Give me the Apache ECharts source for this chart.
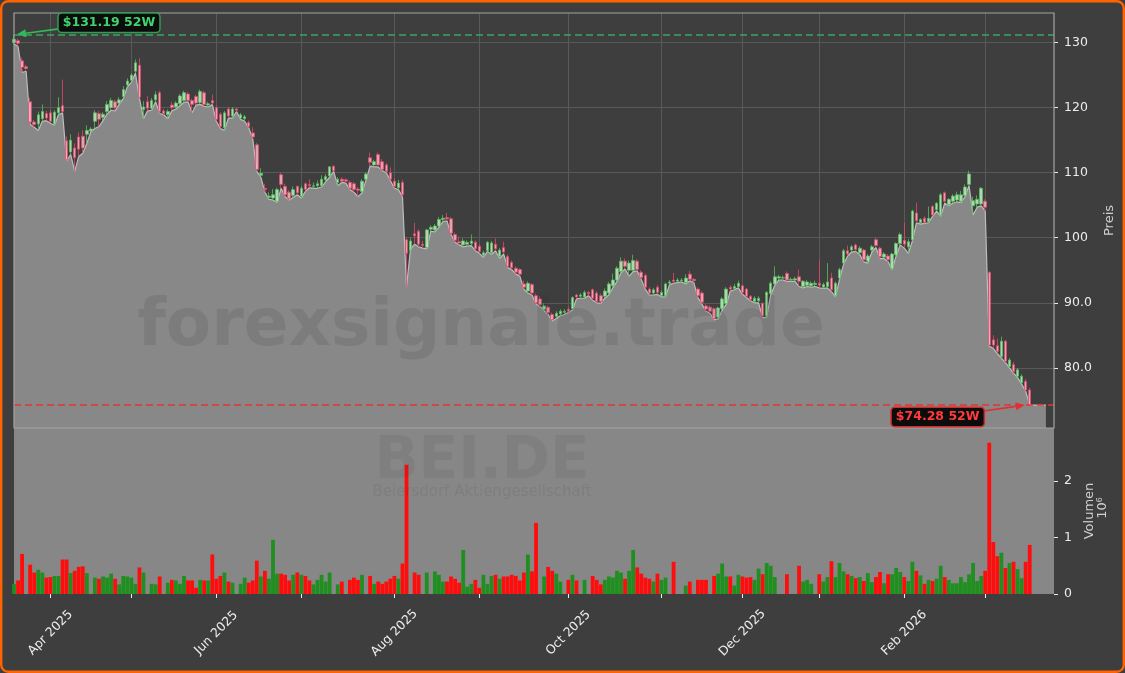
<!DOCTYPE html>
<html><head><meta charset="utf-8">
<script src="https://cdn.jsdelivr.net/npm/echarts@6/dist/echarts.min.js"></script>
<style>html,body{margin:0;padding:0;background:#ffffff}#c{width:1125px;height:673px}</style>
</head><body><div id="c"></div>
<script>
// ---- categories ----
const startDate = '2025-03-19';
const holidays = ['2025-04-18','2025-04-21','2025-05-01','2025-12-24','2025-12-25','2025-12-26','2025-12-31','2026-01-01'];
const padSlots = 6;      // empty trading days kept at the right edge of the x range
const areaPad = 4;       // how far the low-line fill runs past the last candle
// ---- tick labels ----
const priceTicks = [80, 90, 100, 110, 120, 130];
const volTicks = [0, 1, 2];
const monthNames = ['Jan','Feb','Mar','Apr','May','Jun','Jul','Aug','Sep','Oct','Nov','Dec'];
// ---- series values (EUR) ----
const opens = [130.0,130.3,127.2,126.3,120.9,117.8,117.5,118.3,119.1,119.2,
117.5,119.2,120.3,114.9,113.2,113.8,115.5,115.6,115.9,116.4,
117.9,119.1,118.5,119.4,120.0,120.9,120.7,121.7,123.5,124.2,
125.6,126.5,119.7,120.9,119.9,121.2,122.3,119.5,118.9,120.4,
120.1,120.6,121.1,122.1,121.1,121.7,120.8,122.3,120.4,121.1,
120.0,119.0,116.9,119.8,118.7,119.8,118.4,118.3,117.7,116.1,
114.3,109.6,107.6,106.2,106.1,105.6,109.7,107.9,107.0,106.5,
107.9,106.4,108.3,108.2,107.9,108.0,108.0,108.9,109.5,111.0,
108.5,109.0,108.9,108.5,108.3,107.5,107.1,109.0,112.3,111.2,
112.8,111.7,111.2,110.0,108.7,107.7,108.5,99.7,98.0,100.6,
101.0,99.0,98.5,101.3,101.2,101.8,102.8,103.1,102.9,100.5,
99.4,98.9,99.0,99.1,99.3,98.7,97.3,98.0,97.7,99.0,
97.1,98.5,97.1,96.2,95.3,95.1,92.9,91.8,92.8,91.1,
90.6,89.0,89.3,88.2,87.9,88.3,88.5,89.0,89.1,91.2,
91.0,90.9,91.6,92.0,91.5,91.1,91.0,91.5,92.6,93.5,
94.8,96.4,95.0,95.0,96.4,94.7,94.2,92.1,91.5,92.4,
91.1,91.1,93.0,93.5,93.3,93.4,93.1,94.4,93.6,92.1,
91.5,89.5,89.3,89.1,87.8,89.1,89.9,92.4,92.2,92.5,
92.6,92.1,91.0,90.2,90.3,89.9,88.0,91.4,92.9,93.8,
93.8,94.5,93.5,93.5,94.0,92.5,92.7,92.6,92.8,93.0,
92.4,92.5,93.8,91.1,93.8,96.1,98.0,98.1,98.9,97.7,
98.1,96.4,98.1,99.7,98.4,97.0,97.2,95.3,97.4,99.1,
99.6,98.6,99.7,103.8,102.3,103.0,102.5,104.8,104.3,103.5,
106.9,105.1,105.6,105.8,105.6,106.5,108.2,104.9,105.2,105.2,
105.6,94.7,84.3,83.4,81.7,84.1,80.2,80.5,78.7,77.7,
77.9,76.6];
const closes = [130.5,129.9,126.2,126.0,117.8,117.4,118.9,119.4,118.4,117.9,
119.3,120.0,119.4,112.0,115.0,112.3,113.6,113.8,116.5,116.7,
119.2,118.2,119.0,120.5,121.1,120.0,121.2,122.8,124.1,125.0,
126.9,121.6,120.1,119.9,121.1,122.0,119.4,119.1,119.4,120.0,
120.7,121.8,122.3,121.1,120.5,120.7,122.5,120.5,120.6,120.7,
118.2,117.1,119.2,118.7,119.8,119.6,118.9,118.6,117.1,115.5,
110.5,109.9,107.4,106.4,106.6,107.4,108.2,106.6,106.0,107.4,
106.9,107.6,107.4,108.0,108.0,108.3,109.0,109.4,110.9,110.3,
109.0,108.7,108.7,107.6,107.4,107.3,108.7,109.8,111.6,111.7,
111.2,110.5,110.2,109.0,107.9,108.4,106.6,97.6,99.5,100.3,
99.0,98.8,101.2,101.6,101.8,102.8,103.0,102.9,100.7,99.6,
99.2,99.5,99.3,99.5,98.3,97.9,97.7,99.3,99.2,98.3,
98.1,97.8,95.6,95.4,94.7,94.4,92.4,93.0,91.5,90.0,
89.7,89.5,88.5,87.4,88.4,88.7,88.7,88.7,90.8,90.9,
91.2,91.6,91.4,90.7,90.2,90.2,91.8,92.9,93.5,95.3,
96.4,95.6,96.1,96.5,95.1,93.9,92.4,91.5,92.0,91.6,
91.6,92.9,93.2,93.3,93.5,93.5,93.8,93.6,93.4,91.1,
90.1,89.0,88.7,87.6,89.2,90.6,92.1,92.1,92.5,93.0,
91.6,91.0,90.5,90.7,90.7,88.0,91.6,93.0,94.0,94.0,
93.9,93.5,93.6,93.7,93.3,93.3,93.2,93.0,93.0,92.7,
92.8,93.2,92.0,93.0,95.1,98.0,97.5,98.6,98.2,98.4,
96.6,97.2,98.6,98.8,97.1,97.5,96.6,97.5,99.1,100.5,
99.0,99.4,104.1,102.6,102.8,102.4,103.0,103.5,105.3,106.6,
105.6,105.9,106.4,106.6,106.6,107.8,109.8,105.7,105.9,107.6,
104.7,83.5,83.5,82.5,84.1,81.0,81.2,79.4,79.7,78.7,
76.6,74.3];
const lows = [129.8,129.4,125.4,125.6,117.4,117.0,116.5,117.9,118.0,117.6,
117.3,118.9,119.2,111.8,112.8,110.2,112.5,113.0,114.5,116.3,
116.8,117.1,118.0,119.0,119.6,119.5,120.5,121.4,123.2,123.9,
125.3,121.4,118.3,119.5,119.6,120.9,119.1,118.9,118.3,119.5,
119.8,120.3,120.8,120.9,119.2,120.4,120.5,120.2,120.1,120.5,
117.9,116.8,116.5,118.4,118.4,119.4,118.2,117.9,116.9,115.2,
110.2,109.3,107.0,105.9,105.8,105.4,107.6,106.3,105.8,106.2,
106.6,106.1,107.1,107.7,107.6,107.6,107.8,108.6,109.3,110.2,
108.0,108.5,108.4,107.4,107.0,106.3,106.9,108.9,111.0,110.9,
110.9,110.3,110.0,108.8,107.6,107.4,106.3,92.5,98.3,99.0,
98.6,98.4,98.3,101.0,100.9,101.6,102.5,102.6,100.5,99.3,
98.9,98.6,98.7,98.8,98.0,97.6,97.0,97.9,97.4,98.0,
96.8,97.5,95.4,95.1,94.4,94.1,92.1,91.5,91.2,89.8,
89.4,88.8,88.2,87.2,87.6,88.0,88.2,88.5,88.9,90.6,
90.7,90.7,91.1,90.4,90.0,89.9,90.7,91.2,92.3,93.3,
94.6,95.2,94.1,94.8,94.9,93.6,92.1,91.2,91.2,91.3,
90.9,90.9,92.8,93.0,93.1,93.2,92.9,93.4,93.1,90.8,
89.8,88.7,88.4,87.4,87.5,88.9,89.7,91.8,92.0,92.3,
91.3,90.8,90.3,90.0,90.0,87.7,87.8,91.2,92.7,93.5,
93.5,93.3,93.3,93.3,92.5,92.3,92.5,92.4,92.5,92.3,
92.2,92.3,91.7,90.9,93.6,95.9,97.2,97.8,97.9,97.4,
96.3,96.1,97.8,98.5,96.8,96.8,96.3,95.1,97.2,98.9,
98.4,97.6,99.5,102.3,102.1,102.2,102.3,103.3,104.1,103.3,
105.3,104.9,105.3,105.5,105.4,106.3,108.0,103.5,104.7,104.9,
104.1,83.3,83.0,82.2,81.5,80.8,80.0,79.2,78.5,77.5,
76.4,74.28];
const highs = [131.19,130.6,127.7,126.6,121.5,118.1,119.4,120.5,119.5,119.6,
119.6,121.6,124.3,115.6,115.9,114.5,116.2,116.5,117.3,117.0,
119.6,119.5,119.3,121.0,121.5,121.2,121.6,123.3,124.5,125.3,
127.4,127.6,121.0,121.8,121.5,122.5,122.6,119.8,119.7,120.9,
121.0,122.1,122.6,122.4,121.4,122.0,122.8,122.6,120.9,122.0,
120.3,119.3,119.5,120.1,120.1,120.0,119.2,118.9,118.0,117.0,
114.6,110.7,108.3,107.0,107.5,107.7,110.0,108.3,107.3,107.9,
108.0,108.0,108.5,109.0,108.5,108.8,109.6,109.8,111.0,111.1,
109.3,109.3,109.1,108.8,108.6,107.8,109.0,110.0,113.1,112.0,
113.1,112.1,111.5,110.8,109.1,108.9,108.9,100.0,100.0,102.3,
101.3,99.5,101.4,101.9,102.1,103.2,103.5,103.8,103.2,100.8,
100.2,99.9,99.6,100.5,99.6,99.0,98.0,99.5,99.5,99.9,
98.4,99.4,97.4,96.5,95.6,95.3,93.4,93.3,93.0,91.4,
91.0,89.9,89.6,88.5,88.7,89.0,89.0,89.3,91.0,91.4,
91.5,91.9,91.8,92.2,91.8,91.4,92.2,93.2,94.5,95.6,
97.0,96.8,96.5,97.4,96.7,95.0,94.5,92.4,92.3,92.7,
91.9,93.1,93.5,94.6,93.8,93.8,94.4,94.9,93.8,92.4,
91.8,89.8,89.6,89.3,89.4,90.9,92.4,92.7,92.9,93.4,
92.8,92.3,91.2,91.0,91.0,90.1,91.8,93.3,95.6,94.3,
94.2,94.8,93.9,94.0,95.1,93.5,93.5,93.3,93.4,96.5,
93.1,96.1,94.6,93.3,95.4,98.3,98.8,98.9,99.1,98.7,
98.3,97.5,98.9,100.0,98.6,97.8,97.5,97.7,99.3,100.8,
102.3,99.8,104.3,105.4,103.0,103.3,104.8,105.0,105.5,106.9,
107.1,106.1,106.7,107.1,107.2,108.2,110.3,106.3,106.5,107.8,
105.9,94.8,85.0,84.5,84.8,84.3,81.5,80.9,80.0,79.0,
78.3,76.9];
// ---- volume (millions of shares) ----
const volumes = [0.18,0.24,0.71,0,0.52,0.38,0.43,0.38,0.29,0.30,
0.32,0.32,0.61,0.61,0.37,0.41,0.48,0.49,0.37,0,
0.29,0.27,0.31,0.29,0.36,0.27,0.17,0.32,0.31,0.29,
0.18,0.47,0.38,0,0.18,0.17,0.31,0,0.20,0.25,
0.24,0.18,0.32,0.24,0.24,0.11,0.25,0.24,0.24,0.70,
0.27,0.32,0.38,0.22,0.20,0,0.18,0.29,0.20,0.24,
0.59,0.31,0.41,0.27,0.96,0.36,0.36,0.34,0.24,0.34,
0.38,0.34,0.32,0.24,0.17,0.25,0.34,0.22,0.38,0,
0.17,0.22,0,0.25,0.29,0.25,0.34,0,0.32,0.18,
0.22,0.18,0.22,0.27,0.32,0.27,0.54,2.29,0,0.38,
0.34,0,0.38,0,0.40,0.34,0.22,0.22,0.31,0.27,
0.20,0.78,0.13,0.18,0.25,0.11,0.34,0.18,0.32,0.34,
0.27,0.31,0.31,0.34,0.32,0.24,0.38,0.70,0.40,1.26,
0,0.31,0.48,0.41,0.36,0.22,0,0.25,0.34,0.24,
0,0.25,0,0.32,0.25,0.17,0.25,0.31,0.29,0.41,
0.38,0.27,0.41,0.78,0.47,0.36,0.29,0.27,0.22,0.36,
0.25,0.29,0,0.57,0,0,0.15,0.22,0,0.25,
0.25,0.25,0,0.32,0.36,0.54,0.31,0.31,0.15,0.34,
0.31,0.29,0.30,0.25,0.45,0.35,0.55,0.50,0.30,0,
0,0.35,0,0,0.50,0.22,0.25,0.18,0,0.35,
0.22,0.30,0.58,0.30,0.55,0.40,0.35,0.32,0.28,0.30,
0.23,0.37,0.21,0.30,0.39,0.19,0.35,0.35,0.46,0.39,
0.30,0.23,0.57,0.41,0.33,0.18,0.25,0.23,0.27,0.50,
0.30,0.25,0.19,0.19,0.30,0.21,0.35,0.55,0.23,0.32,
0.41,2.68,0.92,0.67,0.73,0.46,0.55,0.57,0.44,0.28,
0.57,0.87];

// ---- derived ----
function tradingDays(start, n, hol) {
  const out = []; const d = new Date(start + 'T12:00:00Z');
  while (out.length < n) {
    const dow = d.getUTCDay(); const s = d.toISOString().slice(0, 10);
    if (dow !== 0 && dow !== 6 && hol.indexOf(s) < 0) out.push(s);
    d.setUTCDate(d.getUTCDate() + 1);
  }
  return out;
}
const nData = opens.length;
const dates = tradingDays(startDate, nData + padSlots, holidays);
const monthStart = dates.map((s, i) => i > 0 && s.slice(5, 7) !== dates[i - 1].slice(5, 7));
const labelMonth = dates.map((s, i) => monthStart[i] && (+s.slice(5, 7)) % 2 === 0);
const candleData = opens.map((o, i) => [o, closes[i], lows[i], highs[i]]);
const lastLow = lows[nData - 1];
const areaData = lows.concat(new Array(areaPad).fill(lastLow));
const UP_VOL = '#1f8f1f', DN_VOL = '#ff0d0d';
const volData = volumes.map((v, i) => ({ value: v, itemStyle: { color: closes[i] >= opens[i] ? UP_VOL : DN_VOL } }));
const maxHigh = Math.max.apply(null, highs), iMax = highs.indexOf(maxHigh);
const minLow = Math.min.apply(null, lows), iMin = lows.indexOf(minLow);

const G0 = { left: 14, top: 13, width: 1040, height: 415 };
const G1 = { left: 14, top: 428, width: 1040, height: 166 };
const FONT = 'DejaVu Sans';
const chart = echarts.init(document.getElementById('c'), null, { renderer: 'canvas' });

const option = {
  animation: false,
  backgroundColor: '#3e3e3e',
  textStyle: { fontFamily: FONT },
  grid: [
    Object.assign({ show: false }, G0),
    Object.assign({ show: true, backgroundColor: '#878787', borderWidth: 0 }, G1)
  ],
  xAxis: [
    { type: 'category', gridIndex: 0, data: dates, boundaryGap: false,
      axisLine: { show: false }, axisTick: { show: false }, axisLabel: { show: false },
      splitLine: { show: true, interval: (i) => monthStart[i], lineStyle: { color: '#595959', width: 1 } } },
    { type: 'category', gridIndex: 1, data: dates, boundaryGap: false,
      axisLine: { show: false },
      axisTick: { show: true, interval: (i) => monthStart[i], length: 4, lineStyle: { color: '#ececec', width: 1 } },
      axisLabel: { show: true, interval: (i) => labelMonth[i], rotate: 45, align: 'center', verticalAlign: 'middle',
        margin: 39, color: '#ececec', fontSize: 12.5, fontFamily: FONT,
        formatter: (v) => monthNames[+v.slice(5, 7) - 1] + ' ' + v.slice(0, 4) },
      splitLine: { show: false } }
  ],
  yAxis: [
    { type: 'value', gridIndex: 0, position: 'right', min: 70.75, max: 134.55, scale: true,
      axisLine: { show: false },
      axisTick: { show: true, length: 4, customValues: priceTicks, lineStyle: { color: '#ececec' } },
      axisLabel: { color: '#ececec', fontSize: 12.5, margin: 10, fontFamily: FONT, customValues: priceTicks,
        formatter: (v) => v >= 100 ? String(v) : v.toFixed(1) },
      splitLine: { show: true, lineStyle: { color: '#595959', width: 1 } },
      name: 'Preis', nameLocation: 'middle', nameGap: 43, nameRotate: 90,
      nameTextStyle: { color: '#cfcfcf', fontSize: 13, fontFamily: FONT } },
    { type: 'value', gridIndex: 1, position: 'right', min: 0, max: 2.94,
      axisLine: { show: false },
      axisTick: { show: true, length: 4, customValues: volTicks, lineStyle: { color: '#ececec' } },
      axisLabel: { color: '#ececec', fontSize: 12.5, margin: 10, fontFamily: FONT, customValues: volTicks },
      splitLine: { show: false },
      name: 'Volumen', nameLocation: 'middle', nameGap: 20, nameRotate: 90,
      nameTextStyle: { color: '#cfcfcf', fontSize: 13, fontFamily: FONT } }
  ],
  series: [
    { type: 'line', name: 'low', xAxisIndex: 0, yAxisIndex: 0, data: areaData, symbol: 'none', silent: true, z: 1,
      lineStyle: { color: '#bdbdbd', width: 1.2 }, areaStyle: { color: '#888888', opacity: 1, origin: 'start' } },
    { type: 'candlestick', name: 'BEI.DE', xAxisIndex: 0, yAxisIndex: 0, data: candleData, barWidth: 3, z: 3,
      itemStyle: { color: '#cfe9cf', color0: '#f6b8c6', borderColor: '#52c45a', borderColor0: '#e6486c', borderWidth: 0.9, opacity: 0.85 },
      markLine: { silent: true, symbol: 'none', label: { show: false }, animation: false,
        data: [
          { yAxis: maxHigh, lineStyle: { color: '#3aa55e', type: [7, 4], width: 1.5 } },
          { yAxis: minLow, lineStyle: { color: '#e03434', type: [7, 4], width: 1.5 } }
        ] } },
    { type: 'bar', name: 'Volumen', xAxisIndex: 1, yAxisIndex: 1, data: volData, barWidth: 3.8, z: 2 }
  ]
};
chart.setOption(option);

function arrow(x1, y1, x2, y2, color) {
  const ang = Math.atan2(y2 - y1, x2 - x1), L = 9, W = 4;
  const bx = x2 - L * Math.cos(ang), by = y2 - L * Math.sin(ang);
  const px = -Math.sin(ang) * W, py = Math.cos(ang) * W;
  return [
    { type: 'line', z: 120, shape: { x1: x1, y1: y1, x2: bx, y2: by }, style: { stroke: color, lineWidth: 1.6 } },
    { type: 'polygon', z: 120, shape: { points: [[x2, y2], [bx + px, by + py], [bx - px, by - py]] }, style: { fill: color } }
  ];
}
function tag(x, y, text, color, border) {
  return { type: 'text', z: 121, x: x, y: y,
    style: { text: text, fill: color, font: 'bold 12.5px "DejaVu Sans"', align: 'center', verticalAlign: 'middle',
      backgroundColor: '#0c0c0c', borderColor: border, borderWidth: 1.5, borderRadius: 3, padding: [3, 4, 2, 4] } };
}
const pHi = chart.convertToPixel({ xAxisIndex: 0, yAxisIndex: 0 }, [iMax, maxHigh]);
const pLo = chart.convertToPixel({ xAxisIndex: 0, yAxisIndex: 0 }, [iMin, minLow]);
const hiBox = [pHi[0] + 95, pHi[1] - 12];
const loBox = [pLo[0] - 92, pLo[1] + 12];
const fmt = (v) => '$' + v.toFixed(2) + ' 52W';

const graphics = [
  { type: 'text', z: 50, silent: true, x: G0.left + 467, y: 328,
    style: { text: 'forexsignale.trade', font: 'bold 66px "DejaVu Sans"', fill: 'rgba(40,40,40,0.12)', align: 'center', verticalAlign: 'middle' } },
  { type: 'text', z: 50, silent: true, x: 482, y: 463,
    style: { text: 'BEI.DE', font: 'bold 58px "DejaVu Sans"', fill: 'rgba(40,40,40,0.08)', align: 'center', verticalAlign: 'middle' } },
  { type: 'text', z: 50, silent: true, x: 482, y: 492,
    style: { text: 'Beiersdorf Aktiengesellschaft', font: '15px "DejaVu Sans"', fill: 'rgba(40,40,40,0.09)', align: 'center', verticalAlign: 'middle' } },
  { type: 'rect', z: 110, silent: true, shape: { x: G0.left, y: G0.top, width: G0.width, height: G0.height },
    style: { fill: null, stroke: '#a3a3a3', lineWidth: 1.2 } },
  { type: 'text', z: 110, silent: true, x: 1103, y: 508, rotation: Math.PI / 2,
    style: { text: '10{s|6}', fill: '#cfcfcf', font: '13px "DejaVu Sans"', align: 'center', verticalAlign: 'middle',
      rich: { s: { fontSize: 9, fill: '#cfcfcf', verticalAlign: 'top', padding: [0, 0, 6, 0] } } } },
  tag(hiBox[0], hiBox[1], fmt(maxHigh), '#3fd46e', '#2f9e52'),
  tag(loBox[0], loBox[1], fmt(minLow), '#ff3b3b', '#d42a2a'),
  { type: 'rect', z: 130, silent: true, shape: { x: 1.2, y: 1.2, width: 1122.6, height: 670.6, r: 7 },
    style: { fill: null, stroke: '#ff6400', lineWidth: 2.4 } }
].concat(arrow(hiBox[0] - 50, hiBox[1] + 6, pHi[0] + 3, pHi[1] - 0.5, '#34b85e'))
 .concat(arrow(loBox[0] + 46, loBox[1] - 6, pLo[0] - 5, pLo[1], '#e23030'));

chart.setOption({ graphic: graphics });
</script>
</body></html>
